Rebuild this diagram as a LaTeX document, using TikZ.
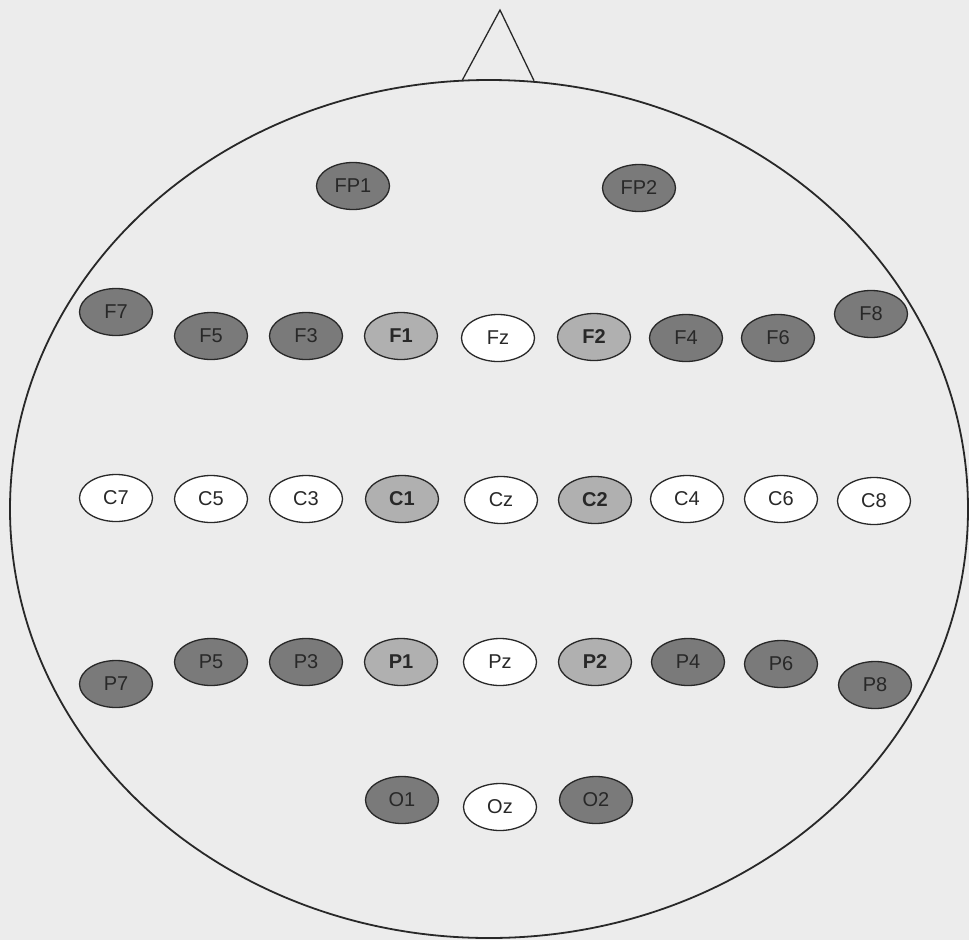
\documentclass[tikz,border=0pt]{standalone}
\usepackage{fontspec}
\setmainfont{Liberation Sans}
\usetikzlibrary{shapes.geometric}
\definecolor{bg}{RGB}{236,236,236}
\definecolor{ink}{RGB}{40,40,40}
\definecolor{darkfill}{RGB}{122,122,122}
\definecolor{lightfill}{RGB}{176,176,176}
\tikzset{
  electrode/.style={ellipse, draw=ink, line width=1.3pt, minimum width=73pt, minimum height=47pt, inner sep=0pt, text=ink, font=\fontsize{20}{22}\selectfont},
  darkel/.style={electrode, fill=darkfill},
  lightel/.style={electrode, fill=lightfill, font=\fontsize{20}{22}\selectfont\bfseries},
  whiteel/.style={electrode, fill=white},
  headline/.style={draw=ink, line width=1.8pt},
}
\begin{document}
\begin{tikzpicture}[x=1pt,y=-1pt]
\useasboundingbox (0,0) rectangle (969,940);
\fill[bg] (0,0) rectangle (969,940);
% nose
\coordinate (noseL) at (462,80.7);
\coordinate (noseR) at (534,80.7);
\coordinate (noseT) at (500,10);
\draw[headline, line width=1.3pt, line join=miter] (noseL) -- (noseT) -- (noseR);
% head
\node[ellipse, headline, minimum width=958pt, minimum height=858pt, inner sep=0pt] (head) at (489,509) {};
% frontopolar
\node[darkel] (FP1) at (353,186) {FP1};
\node[darkel] (FP2) at (639,188) {FP2};
% frontal
\node[darkel] (F7) at (116,312) {F7};
\node[darkel] (F5) at (211,336) {F5};
\node[darkel] (F3) at (306,336) {F3};
\node[lightel] (F1) at (401,336) {F1};
\node[whiteel] (Fz) at (498,338) {Fz};
\node[lightel] (F2) at (594,337) {F2};
\node[darkel] (F4) at (686,338) {F4};
\node[darkel] (F6) at (778,338) {F6};
\node[darkel] (F8) at (871,314) {F8};
% central
\node[whiteel] (C7) at (116,498) {C7};
\node[whiteel] (C5) at (211,499) {C5};
\node[whiteel] (C3) at (306,499) {C3};
\node[lightel] (C1) at (402,499) {C1};
\node[whiteel] (Cz) at (501,500) {Cz};
\node[lightel] (C2) at (595,500) {C2};
\node[whiteel] (C4) at (687,499) {C4};
\node[whiteel] (C6) at (781,499) {C6};
\node[whiteel] (C8) at (874,501) {C8};
% parietal
\node[darkel] (P7) at (116,684) {P7};
\node[darkel] (P5) at (211,662) {P5};
\node[darkel] (P3) at (306,662) {P3};
\node[lightel] (P1) at (401,662) {P1};
\node[whiteel] (Pz) at (500,662) {Pz};
\node[lightel] (P2) at (595,662) {P2};
\node[darkel] (P4) at (688,662) {P4};
\node[darkel] (P6) at (781,664) {P6};
\node[darkel] (P8) at (875,685) {P8};
% occipital
\node[darkel] (O1) at (402,800) {O1};
\node[whiteel] (Oz) at (500,807) {Oz};
\node[darkel] (O2) at (596,800) {O2};
\end{tikzpicture}
\end{document}
